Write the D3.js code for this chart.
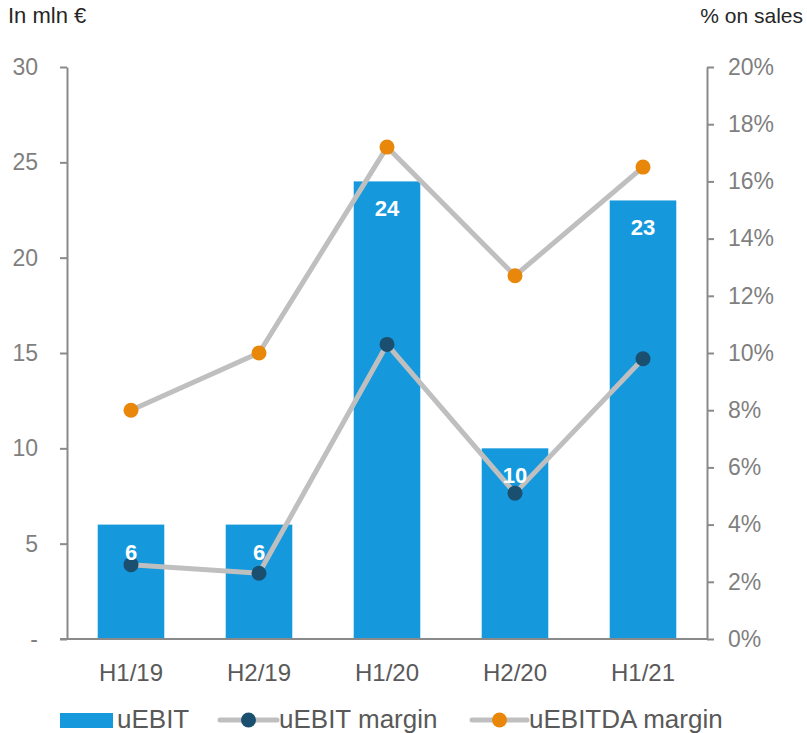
<!DOCTYPE html>
<html>
<head>
<meta charset="utf-8">
<script src="https://cdn.jsdelivr.net/npm/d3@7"></script>
<style>
  html, body { margin: 0; padding: 0; background: #fff; }
  svg { display: block; font-family: "Liberation Sans", Arial, sans-serif; }
</style>
</head>
<body>
<svg id="chart" width="807" height="733"></svg>
<script>
// Half-year periods
const periods = ["H1/19", "H2/19", "H1/20", "H2/20", "H1/21"];
// uEBIT in mln €
const uEbit = [6, 6, 24, 10, 23];
// Margins as share of sales
const uEbitMargin = [0.026, 0.023, 0.103, 0.051, 0.098];
const uEbitdaMargin = [0.080, 0.100, 0.172, 0.127, 0.165];
// Axis ticks
const leftTicks = [0, 5, 10, 15, 20, 25, 30];
const rightTicks = [0, 0.02, 0.04, 0.06, 0.08, 0.10, 0.12, 0.14, 0.16, 0.18, 0.20];

const colors = {
  bar: "#1598DC",
  line: "#BFBFBF",
  ebitDot: "#1B4F6F",
  ebitdaDot: "#E8870A",
  axis: "#8A8A8A",
  tick: "#7F7F7F",
  cat: "#595959",
  title: "#262626"
};

const svg = d3.select("#chart");
const plot = { left: 67, right: 707, top: 67, bottom: 639 };

const x = d3.scaleBand()
  .domain(periods)
  .range([plot.left, plot.right])
  .paddingInner(0.48)
  .paddingOuter(0.24);

const yL = d3.scaleLinear().domain([0, 30]).range([plot.bottom, plot.top]);
const yR = d3.scaleLinear().domain([0, 0.20]).range([plot.bottom, plot.top]);

// Titles above the axes
svg.append("text").attr("x", 8).attr("y", 23)
  .attr("font-size", 22).attr("fill", colors.title).text("In mln €");
svg.append("text").attr("x", 803).attr("y", 23).attr("text-anchor", "end")
  .attr("font-size", 21).attr("fill", colors.title).text("% on sales");

// Left axis
const leftAxis = svg.append("g")
  .attr("transform", `translate(${plot.left},0)`)
  .call(d3.axisLeft(yL).tickValues(leftTicks).tickSize(7).tickSizeOuter(0).tickPadding(22)
    .tickFormat(d => d === 0 ? "-" : d3.format("d")(d)));
leftAxis.select(".domain").attr("stroke", colors.axis).attr("stroke-width", 2);
leftAxis.selectAll(".tick line").attr("stroke", colors.axis).attr("stroke-width", 2);
leftAxis.selectAll(".tick text").attr("fill", colors.tick).attr("font-size", 23)
  .attr("font-family", "Liberation Sans, Arial, sans-serif");

// Right axis
const rightAxis = svg.append("g")
  .attr("transform", `translate(${plot.right},0)`)
  .call(d3.axisRight(yR).tickValues(rightTicks).tickSize(7).tickSizeOuter(0).tickPadding(14)
    .tickFormat(d3.format(".0%")));
rightAxis.select(".domain").attr("stroke", colors.axis).attr("stroke-width", 2);
rightAxis.selectAll(".tick line").attr("stroke", colors.axis).attr("stroke-width", 2);
rightAxis.selectAll(".tick text").attr("fill", colors.tick).attr("font-size", 23)
  .attr("font-family", "Liberation Sans, Arial, sans-serif");

// Bars
svg.append("g").selectAll("rect")
  .data(uEbit)
  .join("rect")
  .attr("x", (d, i) => x(periods[i]))
  .attr("width", x.bandwidth())
  .attr("y", d => yL(d))
  .attr("height", d => yL(0) - yL(d))
  .attr("fill", colors.bar);

// Category axis (baseline)
const bottomAxis = svg.append("g")
  .attr("transform", `translate(0,${plot.bottom})`)
  .call(d3.axisBottom(x).tickSize(0).tickPadding(25));
bottomAxis.select(".domain").attr("stroke", colors.axis).attr("stroke-width", 2)
  .attr("d", `M${plot.left - 7},0H${plot.right}`);
bottomAxis.selectAll(".tick text").attr("fill", colors.cat).attr("font-size", 24)
  .attr("font-family", "Liberation Sans, Arial, sans-serif");

// Margin lines with dots
const cx = i => x(periods[i]) + x.bandwidth() / 2;
function drawSeries(values, dotColor) {
  const line = d3.line().x((d, i) => cx(i)).y(d => yR(d));
  svg.append("path").datum(values)
    .attr("d", line)
    .attr("fill", "none")
    .attr("stroke", colors.line)
    .attr("stroke-width", 5)
    .attr("stroke-linejoin", "round");
  svg.append("g").selectAll("circle")
    .data(values)
    .join("circle")
    .attr("cx", (d, i) => cx(i))
    .attr("cy", d => yR(d))
    .attr("r", 7.5)
    .attr("fill", dotColor);
}
drawSeries(uEbitdaMargin, colors.ebitdaDot);
drawSeries(uEbitMargin, colors.ebitDot);

// Value labels inside bars
svg.append("g").selectAll("text")
  .data(uEbit)
  .join("text")
  .attr("x", (d, i) => cx(i))
  .attr("y", d => yL(d) + 35)
  .attr("text-anchor", "middle")
  .attr("font-size", 22)
  .attr("font-weight", "bold")
  .attr("fill", "#fff")
  .text(d => d);

// Legend
const legend = svg.append("g");
legend.append("rect").attr("x", 60).attr("y", 713).attr("width", 53).attr("height", 15)
  .attr("fill", colors.bar);
legend.append("text").attr("x", 117).attr("y", 728).attr("font-size", 26)
  .attr("fill", colors.cat).text("uEBIT");

const legendLines = [
  { x0: 220, x1: 277, label: "uEBIT margin", color: colors.ebitDot },
  { x0: 472, x1: 527, label: "uEBITDA margin", color: colors.ebitdaDot }
];
legendLines.forEach(l => {
  legend.append("line").attr("x1", l.x0).attr("x2", l.x1).attr("y1", 720).attr("y2", 720)
    .attr("stroke", colors.line).attr("stroke-width", 5).attr("stroke-linecap", "round");
  legend.append("circle").attr("cx", (l.x0 + l.x1) / 2).attr("cy", 720).attr("r", 7.5)
    .attr("fill", l.color);
  legend.append("text").attr("x", l.x1 + 2).attr("y", 728).attr("font-size", 26)
    .attr("fill", colors.cat).text(l.label);
});
</script>
</body>
</html>
